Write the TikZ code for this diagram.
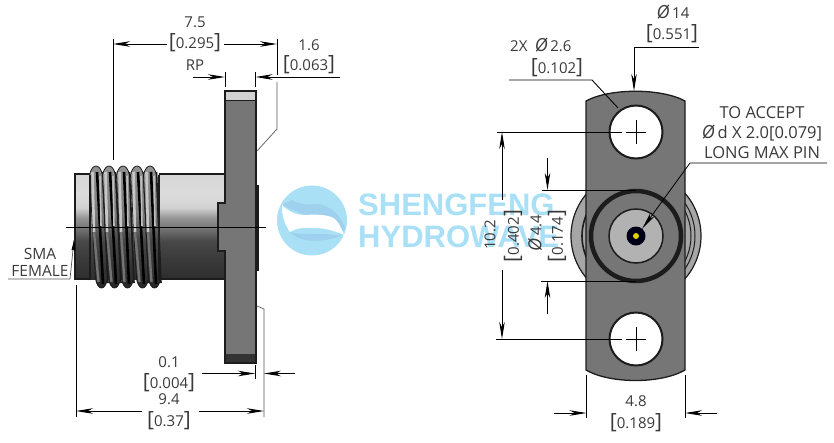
\documentclass[tikz,border=0pt]{standalone}
\usepackage{fontspec}
\setmainfont{Open Sans}
\newfontfamily\markfont{Liberation Sans}
\usetikzlibrary{arrows.meta,calc}
\definecolor{inkgrey}{HTML}{3A3A3A}
\definecolor{steel}{HTML}{767676}
\definecolor{steeldark}{HTML}{1C1C1C}
\definecolor{waterblue}{HTML}{A9E0F6}
\definecolor{wavedeep}{HTML}{9FD0EE}
\pgfdeclareverticalshading{barrel}{100bp}{
  color(0bp)=(black!82);color(25bp)=(black!82);color(33bp)=(black!78);color(43bp)=(black!72);
  color(50bp)=(black!52);color(54bp)=(black!42);color(59bp)=(black!18);color(65bp)=(black!14);
  color(75bp)=(black!16);color(100bp)=(black!16)}
\pgfdeclareverticalshading{threadrib}{100bp}{
  color(0bp)=(black!85);color(25bp)=(black!85);color(45bp)=(black!72);
  color(55bp)=(black!52);color(75bp)=(black!42);color(100bp)=(black!42)}
\tikzset{
  dimarrow/.style={-{Stealth[length=17pt,width=5.5pt,inset=5pt]},line width=.9pt,black},
  extline/.style={line width=.8pt,black},
  leaderline/.style={line width=.7pt,black!65},
  label/.style={text=inkgrey,font=\fontsize{15}{15}\selectfont,inner sep=0pt},
  outline/.style={draw=steeldark,line width=1.3pt}
}
\newcommand{\brk}[1]{{\fontsize{21}{21}\selectfont[}#1{\fontsize{21}{21}\selectfont]}}
\newcommand{\dia}{{\fontsize{18}{18}\selectfont\textit{Ø}}}
\begin{document}
\begin{tikzpicture}[x=1pt,y=-1pt]
    \useasboundingbox (0,0) rectangle (834,442);
    % watermark
    \fill[waterblue] (312,220.5) circle (35);
    \fill[wavedeep] (292,200) .. controls (305,208) and (315,202) .. (322,205) .. controls (332,208) and (340,214) .. (345,228) -- (340,236) .. controls (335,222) and (325,215) .. (305,215) -- (282,205) -- cycle;
    \fill[wavedeep] (290,232) .. controls (300,236) and (325,232) .. (340,236) .. controls (325,242) and (300,244) .. (290,232) -- cycle;
    \fill[white] (282,205) .. controls (290,213) and (298,215) .. (305,215) .. controls (318,214) and (330,215) .. (335,219) .. controls (340,224) and (342,230) .. (344,235) .. controls (335,231) and (325,228) .. (315,228) .. controls (305,228) and (298,227) .. (290,232) .. controls (285,225) and (281,214) .. (282,205) -- cycle;
    \node[text=waterblue,font=\fontsize{31}{31}\selectfont\markfont\bfseries,anchor=west,inner sep=0pt] (markA) at (358,204.5) {SHENGFENG};
    \node[text=waterblue,font=\fontsize{31}{31}\selectfont\markfont\bfseries,anchor=west,inner sep=0pt] (markB) at (358,237) {HYDROWAVE};

    % side view
    \shade[shading=barrel] (75,174) rectangle (226,279);
    \draw[line width=1.2pt,steeldark] (91,174) -- (75,174) -- (75,279) -- (91,279);
    \draw[line width=1.2pt,steeldark] (159,174) -- (225,174);
    \draw[line width=1.2pt,steeldark] (159,279) -- (225,279);
    \foreach \xt/\xb in {96/102,109/115,123/128,137/143,150/155}{
      \shade[shading=threadrib,draw=steeldark,line width=.8pt] (\xt-6.5,175) .. controls (\xt-4,163) and (\xt+4,163) .. (\xt+6.5,175)
        -- (\xb+5.5,279) .. controls (\xb+3,291) and (\xb-4,291) .. (\xb-6.5,279) -- cycle;
      \draw[line width=2.6pt,black] (\xt+1,172) -- (\xb+1,284);
      \draw[line width=2.6pt,black!22] (\xt-3.5,172) -- (\xt-2,232);
      \draw[line width=2.4pt,black!55] (\xt-2,232) -- (\xb-3.5,282);
      \draw[line width=1.6pt,black!25] (\xt+4,176) -- (\xt+5,226);
      \draw[line width=1.6pt,steeldark] (\xt+6.5,172) -- (\xb+6,283);
    }
    \draw[line width=1.6pt,steeldark] (90,175) -- (90,280);
    \draw[line width=1.6pt,steeldark] (159,175) -- (159,280);
    \fill[steel] (225,91) rectangle (256,363);
    \fill[steel] (218,203) rectangle (226,251);
    \fill[black!18] (225,91) rectangle (256,100);
    \fill[black!80] (225,354) rectangle (256,363);
    \draw[outline] (225,91) -- (256,91) -- (256,363) -- (225,363) -- (225,251) -- (218,251) -- (218,203) -- (225,203) -- cycle;
    \draw[line width=.8pt,steeldark] (225,100) -- (256,100);
    \draw[line width=3pt,steeldark] (257.5,185) -- (257.5,271);
    \coordinate (axisL) at (66,227);
    \coordinate (axisR) at (266,227);
    \draw[line width=.9pt,black] (axisL) -- (axisR);

    % front view
    \fill[black!35] (636,236) circle (65);
    \draw[line width=1.2pt,steeldark] (636,236) circle (65);
    \draw[line width=1pt,steeldark] (636,236) ++(-42:59) arc[start angle=-42,end angle=42,radius=59];
    \draw[line width=1pt,steeldark] (636,236) ++(-42:55) arc[start angle=-42,end angle=42,radius=55];
    \draw[line width=1.6pt,steeldark] (636,236) ++(145:54) arc[start angle=145,end angle=215,radius=54];
    \draw[outline,fill=steel] (586,101) .. controls (610,88) and (661,88) .. (685,101) -- (685,370) .. controls (661,384) and (610,384) .. (586,370) -- cycle;
    \draw[line width=2pt,steeldark,fill=white] (636,132) circle (26.5);
    \draw[line width=2pt,steeldark,fill=white] (636,339) circle (26.5);
    \draw[line width=4.5pt,steeldark] (636,236) circle (45);
    \draw[line width=1.5pt,steeldark,fill=black!30] (636,236) circle (27);
    \fill[black!90!blue] (636,236) circle (9.5);
    \fill[yellow!70!olive] (636,236) circle (3);

    % hole centre marks
    \coordinate (crossAl) at (626,132);
    \coordinate (crossAr) at (646,132);
    \coordinate (crossAt) at (636,120);
    \coordinate (crossAb) at (636,144);
    \coordinate (crossBl) at (626,339);
    \coordinate (crossBr) at (646,339);
    \coordinate (crossBt) at (636,327);
    \coordinate (crossBb) at (636,351);
    \draw[line width=.7pt] (crossAl) -- (crossAr);
    \draw[line width=.7pt] (crossAt) -- (crossAb);
    \draw[line width=.7pt] (crossBl) -- (crossBr);
    \draw[line width=.7pt] (crossBt) -- (crossBb);

    % side view labels
    \node[label] (lenA) at (195,22) {7.5};
    \node[label] (lenAin) at (195,43) {\brk{0.295}};
    \node[label] (rpText) at (195,65) {RP};
    \node[label] (flatA) at (309,45) {1.6};
    \node[label] (flatAin) at (309,65) {\brk{0.063}};
    \node[label,align=center,font=\fontsize{15.5}{17}\selectfont] (smaText) at (40,262.5) {SMA\\FEMALE};
    \node[label] (gapA) at (169,362) {0.1};
    \node[label] (gapAin) at (169,383) {\brk{0.004}};
    \node[label] (lenB) at (169,399) {9.4};
    \node[label] (lenBin) at (169,421) {\brk{0.37}};

    % side view dimensions
    \coordinate (extAt) at (113,39);
    \coordinate (extAb) at (113,160);
    \coordinate (extBt) at (277,39);
    \coordinate (extBm) at (277,75);
    \coordinate (arrA) at (113,44);
    \coordinate (arrAs) at (167,44);
    \coordinate (arrB) at (277,44);
    \coordinate (arrBs) at (224,44);
    \draw[extline] (extAt) -- (extAb);
    \draw[extline] (extBt) -- (extBm);
    \draw[dimarrow] (arrAs) -- (arrA);
    \draw[dimarrow] (arrBs) -- (arrB);
    \coordinate (rpL) at (225,77);
    \coordinate (rpLs) at (193,77);
    \coordinate (rpR) at (255.5,77);
    \coordinate (rpRs) at (340,77);
    \coordinate (rpLt) at (225,72);
    \coordinate (rpLb) at (225,87);
    \coordinate (rpRt) at (255.5,72);
    \coordinate (rpRb) at (255.5,87);
    \draw[extline] (rpLt) -- (rpLb);
    \draw[extline] (rpRt) -- (rpRb);
    \draw[dimarrow] (rpLs) -- (rpL);
    \draw[dimarrow] (rpRs) -- (rpR);
    \coordinate (bendA) at (277,129);
    \coordinate (bendAe) at (277,82);
    \coordinate (bendAs) at (257,151);
    \draw[leaderline] (bendAs) -- (bendA) -- (bendAe);
    \coordinate (smaA) at (8,279);
    \coordinate (smaB) at (70,279);
    \coordinate (smaC) at (74,240);
    \draw[leaderline] (smaA) -- (smaB) -- (smaC);
    \fill[black] (smaC) -- ++(-2.5,10) -- ++(4,0) -- cycle;
    \coordinate (gapLt) at (255,365);
    \coordinate (gapLb) at (255,379);
    \coordinate (gapL) at (255,373.5);
    \coordinate (gapLs) at (202,373.5);
    \coordinate (gapR) at (264,373.5);
    \coordinate (gapRs) at (295,373.5);
    \coordinate (bendBs) at (257,306);
    \coordinate (bendB) at (264,309);
    \coordinate (bendBe) at (264,417);
    \draw[extline] (gapLt) -- (gapLb);
    \draw[leaderline] (bendBs) -- (bendB) -- (bendBe);
    \draw[dimarrow] (gapLs) -- (gapL);
    \draw[dimarrow] (gapRs) -- (gapR);
    \coordinate (extCt) at (76,285);
    \coordinate (extCb) at (76,417);
    \coordinate (lenBL) at (76,411);
    \coordinate (lenBLs) at (142,411);
    \coordinate (lenBR) at (264,411);
    \coordinate (lenBRs) at (199,411);
    \draw[extline] (extCt) -- (extCb);
    \draw[dimarrow] (lenBLs) -- (lenBL);
    \draw[dimarrow] (lenBRs) -- (lenBR);

    % front view labels
    \node[label,anchor=west] (outerD) at (656.5,12) {\dia\,14};
    \node[label] (outerDin) at (672,34) {\brk{0.551}};
    \node[label,anchor=west] (holeD) at (510,45) {2X\,\,\,\dia\,2.6};
    \node[label] (holeDin) at (557,68) {\brk{0.102}};
    \node[label,align=center,font=\fontsize{16.5}{20}\selectfont] (pinText) at (762,133) {TO ACCEPT\\\dia\,d X 2.0[0.079]\\LONG MAX PIN};
    \node[label,rotate=90] (spanA) at (490,235) {10.2};
    \node[label,rotate=90] (spanAin) at (513,236) {\brk{0.402}};
    \node[label,rotate=90] (boreA) at (535,233) {\dia\,4.4};
    \node[label,rotate=90] (boreAin) at (557,236) {\brk{0.174}};
    \node[label] (widthA) at (636,401) {4.8};
    \node[label] (widthAin) at (636,423) {\brk{0.189}};

    % front view dimensions
    \coordinate (outerDa) at (699,47);
    \coordinate (outerDb) at (634,47);
    \coordinate (outerDc) at (634,91);
    \draw[dimarrow] (outerDa) -- (outerDb) -- (outerDc);
    \coordinate (holeDa) at (509,80);
    \coordinate (holeDb) at (592,80);
    \coordinate (holeDc) at (618,108);
    \draw[line width=.9pt] (holeDa) -- (holeDb) -- (holeDc);
    \coordinate (pinA) at (827,163);
    \coordinate (pinB) at (690,163);
    \coordinate (pinC) at (642,229);
    \draw[line width=.8pt,-{Stealth[length=17pt,width=5pt,inset=4pt]}] (pinA) -- (pinB) -- (pinC);
    \coordinate (spanTa) at (497,132);
    \coordinate (spanTb) at (622,132);
    \coordinate (spanBa) at (496,339);
    \coordinate (spanBb) at (622,339);
    \coordinate (spanTs) at (502,200);
    \coordinate (spanTe) at (502,132);
    \coordinate (spanBs) at (502,270);
    \coordinate (spanBe) at (502,339);
    \draw[extline] (spanTa) -- (spanTb);
    \draw[extline] (spanBa) -- (spanBb);
    \draw[dimarrow] (spanTs) -- (spanTe);
    \draw[dimarrow] (spanBs) -- (spanBe);
    \coordinate (boreTa) at (542,190);
    \coordinate (boreTb) at (636,190);
    \coordinate (boreBa) at (541,281);
    \coordinate (boreBb) at (636,281);
    \coordinate (boreTs) at (547.5,158);
    \coordinate (boreTe) at (547.5,190);
    \coordinate (boreBs) at (547.5,314);
    \coordinate (boreBe) at (547.5,281);
    \draw[extline] (boreTa) -- (boreTb);
    \draw[extline] (boreBa) -- (boreBb);
    \draw[dimarrow] (boreTs) -- (boreTe);
    \draw[dimarrow] (boreBs) -- (boreBe);
    \coordinate (widthLt) at (586.5,375);
    \coordinate (widthLb) at (586.5,418);
    \coordinate (widthRt) at (685,375);
    \coordinate (widthRb) at (685,418);
    \coordinate (widthL) at (586.5,413);
    \coordinate (widthLs) at (554,413);
    \coordinate (widthR) at (685,413);
    \coordinate (widthRs) at (717,413);
    \draw[extline] (widthLt) -- (widthLb);
    \draw[extline] (widthRt) -- (widthRb);
    \draw[dimarrow] (widthLs) -- (widthL);
    \draw[dimarrow] (widthRs) -- (widthR);
\end{tikzpicture}
\end{document}
